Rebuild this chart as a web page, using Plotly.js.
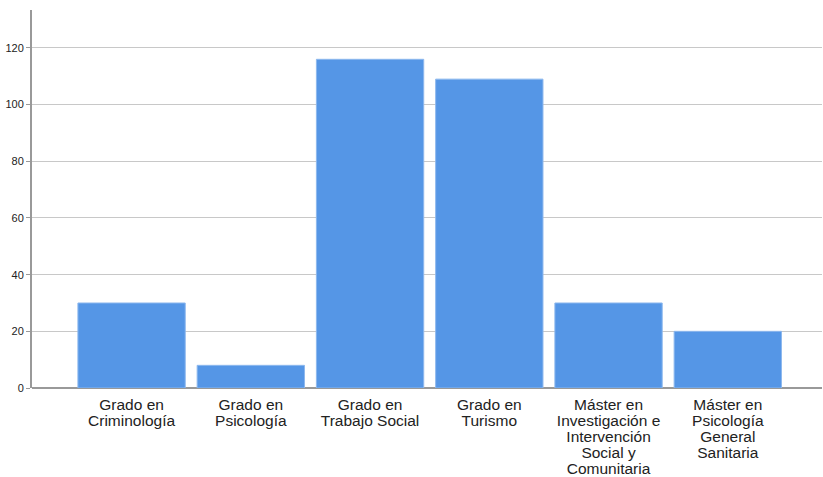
<!DOCTYPE html>
<html>
<head>
<meta charset="utf-8">
<script src="https://cdn.plot.ly/plotly-3.0.1.min.js"></script>
<style>html,body{margin:0;padding:0;background:#fff;}#chart{width:823px;height:477px;}</style>
</head>
<body>
<div id="chart"></div>
<script>
const categories = [
  "Grado en<br>Criminología",
  "Grado en<br>Psicología",
  "Grado en<br>Trabajo Social",
  "Grado en<br>Turismo",
  "Máster en<br>Investigación e<br>Intervención<br>Social y<br>Comunitaria",
  "Máster en<br>Psicología<br>General<br>Sanitaria"
];
const counts = [30, 8, 116, 109, 30, 20];
const yTicks = [0, 20, 40, 60, 80, 100, 120];

const XFONT = 15.5;
const LINE_PX = 16;

const trace = {
  type: "bar",
  x: categories.map((c, i) => i),
  y: counts,
  width: 0.9,
  marker: {color: "#5596E6", line: {color: "#8DB8EE", width: 1}},
  hoverinfo: "x+y"
};

const layout = {
  width: 823, height: 477,
  margin: {l: 32, r: 1, t: 10, b: 89},
  paper_bgcolor: "#fff", plot_bgcolor: "#fff",
  font: {family: "Liberation Sans, Arial, sans-serif", color: "#222"},
  bargap: 0.1,
  showlegend: false,
  xaxis: {
    tickmode: "array",
    tickvals: categories.map((c, i) => i),
    ticktext: categories,
    range: [-0.835, 5.79],
    showgrid: false,
    zeroline: false,
    showline: false,
    ticks: "",
    tickfont: {size: XFONT, color: "#222"},
    ticklabelstandoff: 5
  },
  yaxis: {
    range: [0, 133.4],
    tickvals: yTicks,
    showgrid: true,
    gridcolor: "#c8c8c8",
    gridwidth: 1,
    zeroline: true,
    zerolinecolor: "#999",
    zerolinewidth: 2,
    showline: true,
    linecolor: "#999",
    linewidth: 2,
    ticks: "outside",
    ticklen: 4,
    tickcolor: "#999",
    tickfont: {size: 11, color: "#222"}
  }
};

Plotly.newPlot("chart", [trace], layout, {displayModeBar: false, staticPlot: true}).then(function () {
  // tighten the line spacing of the multi-line category labels
  const factor = LINE_PX / (1.3 * XFONT);
  document.querySelectorAll(".xtick text tspan.line").forEach(function (t) {
    const dy = t.getAttribute("dy");
    if (dy && dy.endsWith("em")) {
      t.setAttribute("dy", (parseFloat(dy) * factor) + "em");
    }
  });
});
</script>
</body>
</html>
